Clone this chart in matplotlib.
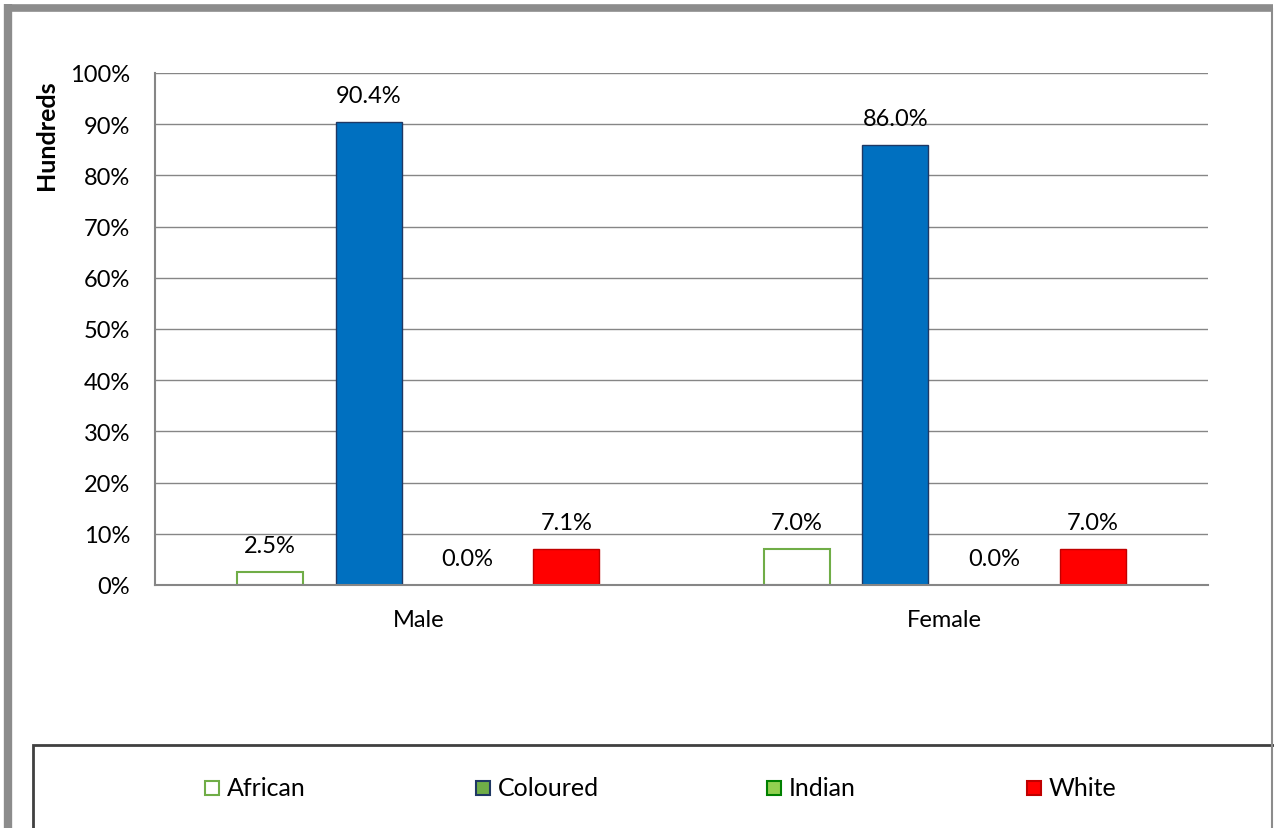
import matplotlib
matplotlib.use("Agg")
import matplotlib.pyplot as plt
from matplotlib.patches import Rectangle
from matplotlib.lines import Line2D
import numpy as np

plt.rcParams['font.family'] = ['Lato', 'DejaVu Sans']

categories = ["Male", "Female"]
series = ["African", "Coloured", "Indian", "White"]
african = [2.5, 7.0]
coloured = [90.4, 86.0]
indian = [0.0, 0.0]
white = [7.1, 7.0]
values = [african, coloured, indian, white]
yticks = [0, 10, 20, 30, 40, 50, 60, 70, 80, 90, 100]
ytick_labels = ["0%", "10%", "20%", "30%", "40%", "50%", "60%", "70%", "80%", "90%", "100%"]

bar_faces = ["#FFFFFF", "#0070C0", "#92D050", "#FF0000"]
bar_edges = ["#70AD47", "#1F3864", "#008000", "#C00000"]
legend_faces = ["#FFFFFF", "#70AD47", "#92D050", "#FF0000"]
legend_edges = ["#70AD47", "#1F3864", "#008000", "#C00000"]

FS = 17
W, H = 1274, 829
fig = plt.figure(figsize=(W / 100, H / 100), dpi=100)
ax = fig.add_axes([155 / W, 1 - 586 / H, (1208 - 155) / W, (586 - 74) / H])

x = np.arange(len(categories))
width = 0.125
step = 0.1875
offsets = [-1.5 * step, -0.5 * step, 0.5 * step, 1.5 * step]
for i, s in enumerate(series):
    bars = ax.bar(x + offsets[i], values[i], width, color=bar_faces[i],
                  edgecolor=bar_edges[i], linewidth=1.5 if i == 0 else 1.0, zorder=2)
    for xi, v in zip(x + offsets[i], values[i]):
        ax.annotate(f"{v:.1f}%", (xi, v), xytext=(0, 19), textcoords="offset points",
                    ha="center", va="center", fontsize=FS, color="black")

ax.set_xlim(-0.5, 1.5)
ax.set_ylim(0, 100)
ax.set_yticks(yticks)
ax.set_yticklabels(ytick_labels, fontsize=FS)
ax.set_xticks(x)
ax.set_xticklabels(categories, fontsize=FS)
ax.tick_params(axis="both", length=0)
ax.tick_params(axis="y", pad=18)
ax.tick_params(axis="x", pad=17)
ax.yaxis.grid(True, color="#868686", linewidth=1.0, zorder=0)
ax.set_axisbelow(True)
for side in ["top", "right"]:
    ax.spines[side].set_visible(False)
for side in ["left", "bottom"]:
    ax.spines[side].set_color("#868686")
    ax.spines[side].set_linewidth(1.5)

fig.text(46 / W, 1 - 135 / H, "Hundreds", rotation=90, ha="center", va="center",
         fontsize=FS + 1, fontweight="bold")

# outer frame
fig.add_artist(Line2D([8 / W, 8 / W], [0, 1 - 5 / H], transform=fig.transFigure,
                      color="#8C8C8C", linewidth=6, solid_capstyle="butt"))
fig.add_artist(Line2D([4 / W, 1273 / W], [1 - 9 / H, 1 - 9 / H], transform=fig.transFigure,
                      color="#8C8C8C", linewidth=5.5, solid_capstyle="butt"))
fig.add_artist(Line2D([1272 / W, 1272 / W], [0, 1 - 9 / H], transform=fig.transFigure,
                      color="#8C8C8C", linewidth=1.5, solid_capstyle="butt"))

# legend box
fig.add_artist(Rectangle((33 / W, -0.05), (1300 - 33) / W, 1 - 746 / H + 0.05,
                         transform=fig.transFigure, facecolor="none",
                         edgecolor="#404040", linewidth=2))
leg_x = [205, 476, 767, 1027]
leg_y = 789
for i, s in enumerate(series):
    fig.add_artist(Rectangle((leg_x[i] / W, 1 - (leg_y + 7) / H), 14 / W, 14 / H,
                             transform=fig.transFigure, facecolor=legend_faces[i],
                             edgecolor=legend_edges[i], linewidth=1.5))
    fig.text((leg_x[i] + 22) / W, 1 - leg_y / H, s, ha="left", va="center", fontsize=FS + 1)

fig.savefig("out.png", dpi=100)
